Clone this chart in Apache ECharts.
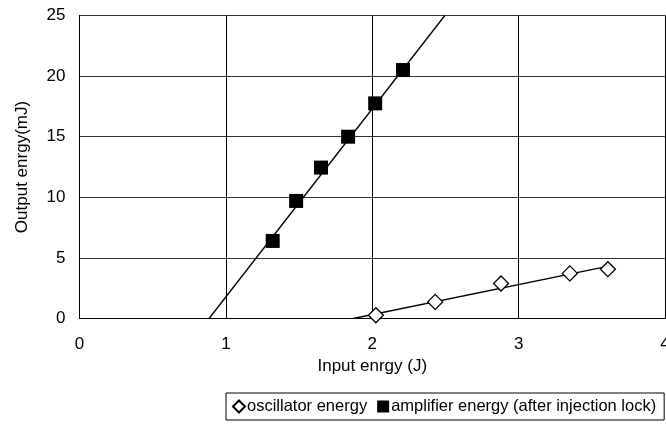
<!DOCTYPE html>
<html><head><meta charset="utf-8">
<script src="https://cdn.jsdelivr.net/npm/echarts@6/dist/echarts.min.js"></script>
<style>html,body{margin:0;padding:0;background:#fff}#c{width:666px;height:448px}</style>
</head><body><div id="c"></div>
<script>
var oscX = [2.025, 2.43, 2.88, 3.35, 3.61];
var oscY = [0.27, 1.37, 2.89, 3.72, 4.07];
var ampX = [1.32, 1.48, 1.65, 1.835, 2.02, 2.21];
var ampY = [6.4, 9.7, 12.45, 15.0, 17.75, 20.5];
var oscFitX = [1.87, 3.64];
var oscFitY = [0, 4.39];
var ampFitX = [0.885, 2.496];
var ampFitY = [0, 25];
var xTicks = [0, 1, 2, 3, 4];
var yTicks = [0, 5, 10, 15, 20, 25];
var names = ['oscillator energy', 'amplifier energy (after injection lock)'];

function pairs(xs, ys){ return xs.map(function(x,i){return [x, ys[i]];}); }
var font = 'Liberation Sans, Arial, sans-serif';
var chart = echarts.init(document.getElementById('c'));
chart.setOption({
  animation: false,
  backgroundColor: '#fff',
  textStyle: {fontFamily: font, color: '#000'},
  grid: {left: 79.5, right: 1, top: 15.5, bottom: 129.5, containLabel: false, outerBoundsMode: 'none'},
  xAxis: {
    type: 'value', min: xTicks[0], max: xTicks[xTicks.length-1], interval: 1,
    name: 'Input enrgy (J)', nameLocation: 'middle', nameGap: 30,
    nameTextStyle: {fontSize: 17, color: '#000', fontFamily: font},
    axisLine: {show: true, lineStyle: {color: '#000', width: 1}},
    axisTick: {show: false},
    axisLabel: {fontSize: 17, color: '#000', margin: 17, fontFamily: font, showMaxLabel: true},
    splitLine: {show: true, lineStyle: {color: '#000', width: 1}}
  },
  yAxis: {
    type: 'value', min: yTicks[0], max: yTicks[yTicks.length-1], interval: 5,
    name: 'Output enrgy(mJ)', nameLocation: 'middle', nameGap: 49, nameRotate: 90,
    nameTextStyle: {fontSize: 17, color: '#000', fontFamily: font},
    axisLine: {show: true, lineStyle: {color: '#000', width: 1}},
    axisTick: {show: false},
    axisLabel: {fontSize: 17, color: '#000', margin: 14, fontFamily: font},
    splitLine: {show: true, lineStyle: {color: '#333', width: 1}}
  },
  legend: {
    left: 226, top: 393, width: 436, data: names,
    orient: 'horizontal',
    borderColor: '#000', borderWidth: 1, borderRadius: 0,
    padding: [5, 8, 5, 6], itemGap: 10, itemWidth: 12, itemHeight: 12,
    textStyle: {fontSize: 16.5, color: '#000', fontFamily: font, padding: [0,0,0,-3]}
  },
  series: [
    {type: 'line', data: pairs(oscFitX, oscFitY), showSymbol: false, symbol: 'none',
     lineStyle: {color: '#000', width: 1.3}, silent: true, z: 2},
    {type: 'line', data: pairs(ampFitX, ampFitY), showSymbol: false, symbol: 'none',
     lineStyle: {color: '#000', width: 1.3}, silent: true, z: 2},
    {name: names[0], type: 'scatter', data: pairs(oscX, oscY), symbol: 'diamond', symbolSize: 15,
     itemStyle: {color: '#fff', borderColor: '#000', borderWidth: 1.3, opacity: 1}, z: 3},
    {name: names[1], type: 'scatter', data: pairs(ampX, ampY), symbol: 'rect', symbolSize: 14,
     itemStyle: {color: '#000', borderColor: '#000', borderWidth: 0, opacity: 1}, z: 3}
  ]
});
</script></body></html>
